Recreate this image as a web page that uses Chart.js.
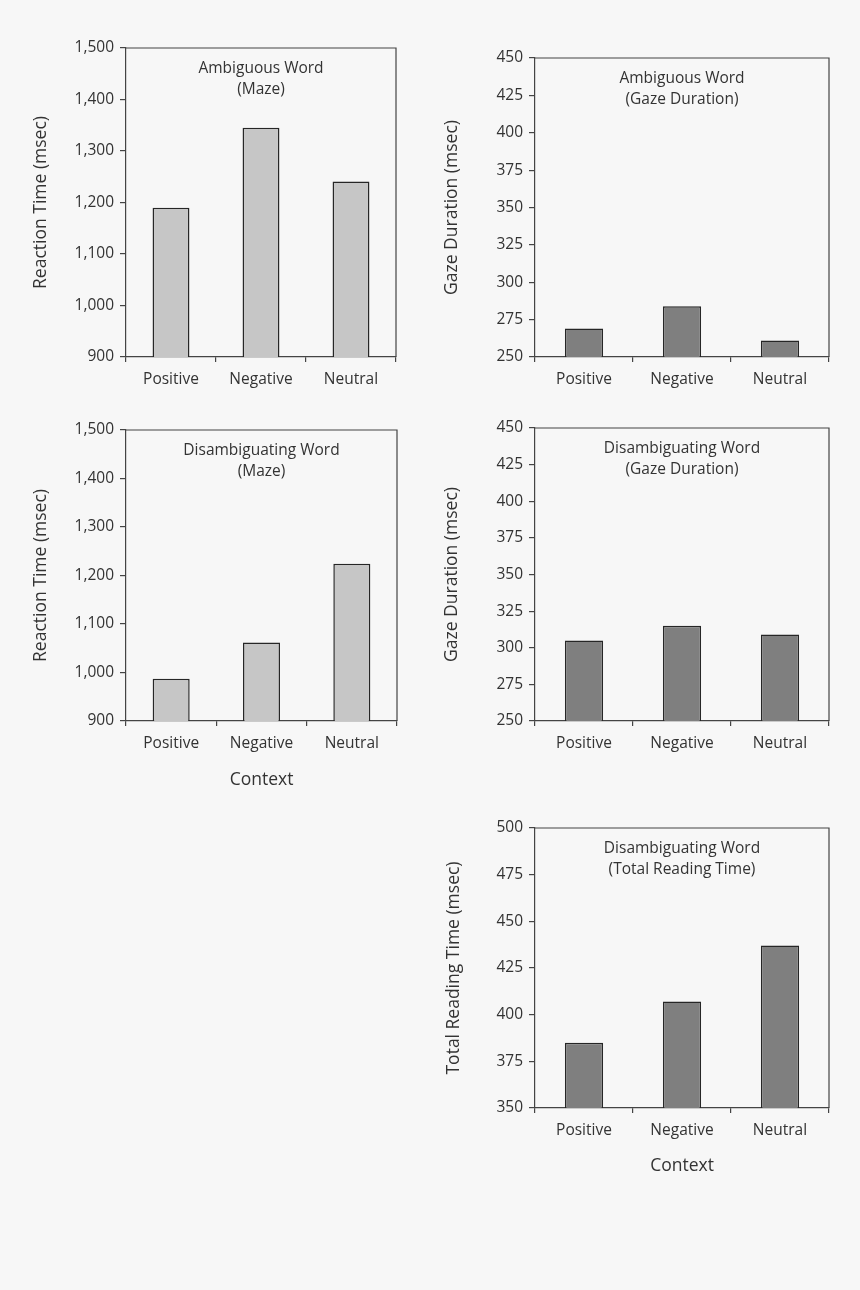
<!DOCTYPE html>
<html>
<head>
<meta charset="utf-8">
<script src="https://cdn.jsdelivr.net/npm/chart.js@4.4.1/dist/chart.umd.min.js"></script>
<style>
  body { margin: 0; background: #f7f7f7; }
  #page { position: relative; width: 860px; height: 1290px; background: #f7f7f7; }
  .panel { position: absolute; }
</style>
</head>
<body>
<div id="page">
  <div class="panel" id="p1" style="left:20px; top:30px; width:390px; height:380px"><canvas id="c1"></canvas></div>
  <div class="panel" id="p2" style="left:430px; top:40px; width:420px; height:370px"><canvas id="c2"></canvas></div>
  <div class="panel" id="p3" style="left:20px; top:412px; width:390px; height:388px"><canvas id="c3"></canvas></div>
  <div class="panel" id="p4" style="left:430px; top:410px; width:420px; height:364px"><canvas id="c4"></canvas></div>
  <div class="panel" id="p5" style="left:430px; top:810px; width:420px; height:378px"><canvas id="c5"></canvas></div>
</div>
<script>
// categories (x tick labels)
const contexts = ['Positive', 'Negative', 'Neutral'];

// values (msec)
const ambigMaze = [1190, 1345, 1241];
const ambigGaze = [269, 284, 261];
const disambigMaze = [987, 1062, 1224];
const disambigGaze = [305, 315, 309];
const disambigTotal = [385, 407, 437];

const lightGrey = '#c6c6c6';
const darkGrey = '#7f7f7f';
const ink = '#333333';
const fontName = '"Open Sans", "Noto Sans", sans-serif';

Chart.defaults.font.family = fontName;
Chart.defaults.color = ink;

// draws the top and right edges of the box + the label inside the plot
const boxPlugin = {
    id: 'boxPlugin',
    afterDraw(chart, args, opts) {
        const { ctx, chartArea } = chart;
        ctx.save();
        ctx.strokeStyle = '#444';
        ctx.lineWidth = 1.2;
        ctx.beginPath();
        ctx.moveTo(chartArea.left, chartArea.top);
        ctx.lineTo(chartArea.right, chartArea.top);
        ctx.lineTo(chartArea.right, chartArea.bottom);
        ctx.stroke();

        ctx.fillStyle = ink;
        ctx.font = '15.5px ' + fontName;
        ctx.textAlign = 'center';
        ctx.textBaseline = 'middle';
        const cx = (chartArea.left + chartArea.right) / 2;
        (opts.lines || []).forEach((line, i) => {
            ctx.fillText(line, cx, chartArea.top + 21 + i * 20.5);
        });
        ctx.restore();
    }
};

function makePanel(canvasId, opts) {
    const ctx = document.getElementById(canvasId).getContext('2d');
    return new Chart(ctx, {
        type: 'bar',
        data: {
            labels: contexts,
            datasets: [{
                data: opts.values,
                backgroundColor: opts.fill,
                borderColor: '#262626',
                borderWidth: 1.5,
                borderSkipped: 'bottom',
                barPercentage: opts.barPct,
                categoryPercentage: 1
            }]
        },
        options: {
            responsive: true,
            maintainAspectRatio: false,
            animation: false,
            layout: { padding: opts.padding },
            plugins: {
                legend: { display: false },
                tooltip: { enabled: false },
                boxPlugin: { lines: opts.inner }
            },
            scales: {
                x: {
                    afterFit: (scale) => { scale.height = opts.xHeight; },
                    grid: { display: true, offset: true, drawOnChartArea: false, drawTicks: true, tickLength: 5, color: '#444', lineWidth: 1.2 },
                    border: { display: true, color: '#444', width: 1.2 },
                    ticks: { font: { size: 15.5 }, padding: 8, color: ink },
                    title: {
                        display: !!opts.xTitle,
                        text: opts.xTitle || '',
                        font: { size: 17.5 },
                        color: ink,
                        padding: { top: 0, bottom: opts.xTitlePad || 0 }
                    }
                },
                y: {
                    min: opts.min,
                    max: opts.max,
                    afterFit: (scale) => { scale.width = opts.yWidth; },
                    grid: { display: true, drawOnChartArea: false, drawTicks: true, tickLength: 6, color: '#444', lineWidth: 1.2 },
                    border: { display: true, color: '#444', width: 1.2 },
                    ticks: {
                        stepSize: opts.step,
                        font: { size: 15.5 },
                        padding: 6,
                        color: ink,
                        callback: (v) => v.toLocaleString('en-US')
                    },
                    title: {
                        display: true,
                        text: opts.yTitle,
                        font: { size: 17.5 },
                        color: ink,
                        padding: { top: opts.yTitlePad, bottom: 0 }
                    }
                }
            }
        },
        plugins: [boxPlugin]
    });
}

makePanel('c1', {
    values: ambigMaze, fill: lightGrey, barPct: 0.41,
    min: 900, max: 1500, step: 100,
    yTitle: 'Reaction Time (msec)', yTitlePad: 11,
    inner: ['Ambiguous Word', '(Maze)'],
    padding: { top: 18, right: 14, left: 0, bottom: 0 },
    yWidth: 106, xHeight: 53
});

makePanel('c2', {
    values: ambigGaze, fill: darkGrey, barPct: 0.39,
    min: 250, max: 450, step: 25,
    yTitle: 'Gaze Duration (msec)', yTitlePad: 12,
    inner: ['Ambiguous Word', '(Gaze Duration)'],
    padding: { top: 18, right: 21, left: 0, bottom: 0 },
    yWidth: 105, xHeight: 53
});

makePanel('c3', {
    values: disambigMaze, fill: lightGrey, barPct: 0.41,
    min: 900, max: 1500, step: 100,
    yTitle: 'Reaction Time (msec)', yTitlePad: 11,
    inner: ['Disambiguating Word', '(Maze)'],
    padding: { top: 18, right: 13, left: 0, bottom: 0 },
    yWidth: 106, xHeight: 79,
    xTitle: 'Context', xTitlePad: 9
});

makePanel('c4', {
    values: disambigGaze, fill: darkGrey, barPct: 0.39,
    min: 250, max: 450, step: 25,
    yTitle: 'Gaze Duration (msec)', yTitlePad: 12,
    inner: ['Disambiguating Word', '(Gaze Duration)'],
    padding: { top: 18, right: 21, left: 0, bottom: 0 },
    yWidth: 105, xHeight: 53
});

makePanel('c5', {
    values: disambigTotal, fill: darkGrey, barPct: 0.39,
    min: 350, max: 500, step: 25,
    yTitle: 'Total Reading Time (msec)', yTitlePad: 14,
    inner: ['Disambiguating Word', '(Total Reading Time)'],
    padding: { top: 18, right: 21, left: 0, bottom: 0 },
    yWidth: 105, xHeight: 80,
    xTitle: 'Context', xTitlePad: 11
});
</script>
</body>
</html>
